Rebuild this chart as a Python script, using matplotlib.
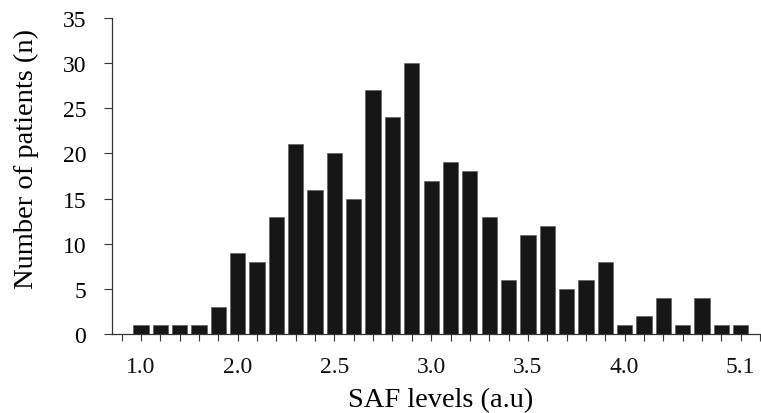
import matplotlib
matplotlib.use("Agg")
import matplotlib.pyplot as plt

# Data: category index 0 and 33 are empty slots on the axis
counts = [1, 1, 1, 1, 3, 9, 8, 13, 21, 16, 20, 15, 27, 24, 30, 17,
          19, 18, 13, 6, 11, 12, 5, 6, 8, 1, 2, 4, 1, 4, 1, 1]
label_positions = [1, 6, 11, 16, 21, 26, 32]
tick_labels = ["1.0", "2.0", "2.5", "3.0", "3.5", "4.0", "5.1"]
y_ticks = [0, 5, 10, 15, 20, 25, 30, 35]

plt.rcParams['font.family'] = ['Liberation Serif', 'DejaVu Serif']

fig = plt.figure(figsize=(7.61, 4.14), dpi=100)
ax = fig.add_axes([112/761, 1-335/414, (760-112)/761, (335-19)/414])

x = list(range(1, len(counts)+1))
ax.bar(x, counts, width=0.79, color='#161616', edgecolor='#555555', linewidth=0.4, zorder=2)

ax.set_xlim(-0.5, 33.0)
ax.set_ylim(0, 35)
ax.set_yticks(y_ticks)
ax.set_yticklabels([str(v) for v in y_ticks], fontsize=17)

ax.set_xticks(list(range(0, 34)))
ax.set_xticklabels([''] * 34)
ax.tick_params(axis='x', which='major', length=5, width=0.8, color='#333333', direction='out')
ax.tick_params(axis='y', length=5.5, width=0.8, color='#333333', direction='out', pad=13)

for pos, lab in zip(label_positions, tick_labels):
    ax.text(pos, -4.2, lab, ha='center', va='baseline', fontsize=17, color='#111111')

for s in ['top', 'right']:
    ax.spines[s].set_visible(False)
for s in ['left', 'bottom']:
    ax.spines[s].set_color('#333333')
    ax.spines[s].set_linewidth(0.9)

fig.text(26/761, 1-159/414, "Number of patients (n)", rotation=90, ha='center', va='center', fontsize=20.5)
fig.text(441/761, 1-401/414, "SAF levels (a.u)", ha='center', va='center', fontsize=20.5)

fig.savefig("out.png", dpi=100)
